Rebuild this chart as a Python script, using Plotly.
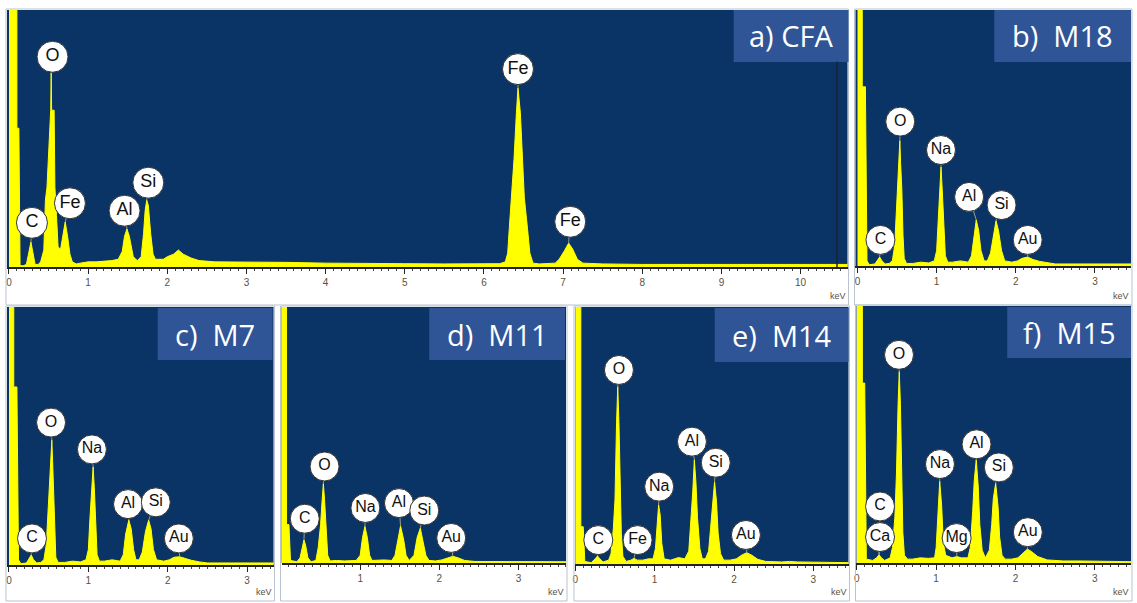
import plotly.graph_objects as go

W, H = 1137, 603

# ---------------- DATA (energy keV, intensity % of panel height) ----------------
a_keV = [0, 0.10, 0.10, 0.125, 0.14, 0.18, 0.22, 0.25, 0.277, 0.30, 0.33, 0.37,
         0.40, 0.44, 0.46, 0.48, 0.52, 0.527, 0.533, 0.539, 0.57, 0.58, 0.60, 0.62, 0.65,
         0.68, 0.71, 0.74, 0.77, 0.80, 0.85, 0.9, 1.0, 1.1, 1.2, 1.3, 1.38,
         1.43, 1.46, 1.49, 1.52, 1.57, 1.62, 1.67, 1.70, 1.72, 1.74, 1.76, 1.79, 1.82, 1.85,
         1.90, 1.95, 2.0, 2.08, 2.14, 2.2, 2.3, 2.4, 2.6, 3.0, 3.5, 4.0, 4.5, 5.0, 5.5, 6.0,
         6.2, 6.27, 6.30, 6.32, 6.35, 6.38, 6.41, 6.43, 6.46, 6.49, 6.51, 6.55, 6.58, 6.62,
         6.7, 6.9, 6.95, 7.02, 7.07, 7.12, 7.18, 7.25, 7.5, 8.0, 9.0, 10.0, 10.6]
a_cnt = [120, 120, 54, 54, 0.5, 0.5, 1, 5, 9.7, 6, 1, 1,
         2, 6.6, 26, 31, 61, 61, 75.5, 61, 61, 31, 20, 8, 6.6,
         12, 17.5, 12, 5, 2, 1.2, 1.5, 2, 2, 2.2, 2.5, 3,
         6, 12, 14.8, 12, 4, 2.5, 4, 13, 22, 26, 24, 13, 5, 3,
         3, 3, 4, 5, 6.6, 5, 3.5, 2.5, 2, 2, 1.8, 1.5, 1.3, 1.3, 1.2, 1.2,
         1.3, 2, 5.4, 15, 27, 42, 60, 69.6, 60, 42, 27, 15, 5.4, 1.5,
         1.2, 1.5, 3, 6.5, 9.3, 7, 3, 1.5, 1.2, 1, 1, 1, 1]

b_keV = [0, 0.06, 0.06, 0.10, 0.12, 0.15, 0.22, 0.25, 0.28, 0.31, 0.35, 0.40,
         0.44, 0.47, 0.49, 0.51, 0.525, 0.535, 0.545, 0.56, 0.575, 0.59, 0.62,
         0.7, 0.8, 0.9, 0.97, 1.0, 1.02, 1.04, 1.055, 1.07, 1.09, 1.11, 1.14,
         1.2, 1.3, 1.4, 1.44, 1.47, 1.50, 1.53, 1.56, 1.60, 1.64,
         1.68, 1.72, 1.75, 1.78, 1.82, 1.86, 1.95, 2.02, 2.08, 2.15, 2.22, 2.3, 2.4,
         2.5, 2.8, 3.5]
b_cnt = [120, 120, 70, 70, 2, 0.5, 0.8, 2, 3.5, 2, 0.8, 1,
         2, 8, 20, 35, 40, 49, 40, 30, 12, 3, 1,
         1, 1.5, 1.2, 2, 6, 18, 32, 38.7, 30, 15, 4, 1.5,
         1.5, 2, 1.5, 4, 12, 18, 14, 6, 2, 2,
         5, 13, 17.7, 14, 6, 2, 1.5, 2, 3, 3.5, 2.5, 1.8, 1.2,
         0.8, 0.8, 0.8]

c_keV = [0, 0.06, 0.06, 0.10, 0.12, 0.15, 0.22, 0.25, 0.28, 0.31, 0.35, 0.40,
         0.44, 0.47, 0.49, 0.51, 0.525, 0.54, 0.55, 0.56, 0.575, 0.59, 0.62,
         0.7, 0.8, 0.9, 0.97, 1.0, 1.02, 1.04, 1.06, 1.075, 1.09, 1.11, 1.14,
         1.2, 1.3, 1.4, 1.44, 1.47, 1.51, 1.54, 1.57, 1.60, 1.64,
         1.68, 1.72, 1.76, 1.79, 1.82, 1.86, 1.95, 2.02, 2.08, 2.15, 2.22, 2.3, 2.4,
         2.5, 2.8, 3.5]
c_cnt = [120, 120, 69, 69, 2, 0.5, 0.8, 2.5, 3.9, 2, 0.8, 1,
         2, 8, 20, 34, 40, 48.4, 40, 30, 12, 3, 1,
         1, 1.5, 1.2, 2, 6, 18, 31, 38, 30, 15, 4, 1.5,
         1.5, 2, 1.5, 4, 12, 17.4, 14, 6, 2, 2,
         5, 13, 17.4, 14, 6, 2, 1.5, 2, 3, 3.2, 2.5, 1.8, 1.2,
         0.8, 0.8, 0.8]

d_keV = [0, 0.07, 0.07, 0.10, 0.12, 0.2, 0.24, 0.27, 0.29, 0.31, 0.34, 0.38, 0.44,
         0.47, 0.50, 0.52, 0.535, 0.55, 0.57, 0.59, 0.62,
         0.7, 0.8, 0.95, 1.0, 1.03, 1.06, 1.09, 1.12, 1.15,
         1.3, 1.4, 1.44, 1.48, 1.51, 1.55, 1.58, 1.62,
         1.68, 1.72, 1.76, 1.79, 1.83, 1.87, 1.95, 2.03, 2.1, 2.17, 2.24, 2.32, 2.45, 3.6]
d_cnt = [120, 120, 15, 15, 1, 0.5, 2, 7, 9, 7, 2, 0.5, 1,
         6, 15, 24.7, 31, 24.7, 12, 3, 0.8,
         1, 0.8, 1, 3, 10, 14.3, 10, 3, 1,
         1.2, 1, 3, 10, 14.5, 9, 3, 1,
         3, 10, 13.6, 9, 3, 1, 0.8, 1.2, 2, 2.6, 2, 1, 0.6, 0.5]

e_keV = [0, 0.07, 0.07, 0.10, 0.12, 0.2, 0.25, 0.28, 0.31, 0.35, 0.42,
         0.45, 0.48, 0.50, 0.52, 0.535, 0.55, 0.565, 0.58, 0.60, 0.64,
         0.7, 0.74, 0.78, 0.85, 0.92, 0.98, 1.01, 1.03, 1.05, 1.07, 1.09, 1.12,
         1.2, 1.3, 1.38, 1.43, 1.46, 1.48, 1.50, 1.52, 1.54, 1.57, 1.60, 1.64,
         1.68, 1.71, 1.73, 1.755, 1.78, 1.80, 1.83, 1.87, 1.95,
         2.03, 2.1, 2.16, 2.22, 2.3, 2.4, 2.6, 2.7, 2.8, 3.5]
e_cnt = [120, 120, 14.5, 14.5, 1, 0.5, 2, 3.1, 2, 0.8, 1.5,
         4, 14, 25, 55, 69, 55, 28, 12, 3, 1,
         1.5, 2.2, 1.5, 1.5, 2, 2, 6, 15, 23, 19, 8, 2,
         1.5, 2.5, 2, 5, 18, 28, 40.5, 32, 18, 6, 2, 2,
         5, 16, 26, 32, 24, 12, 4, 1.5, 1.5,
         2, 3.5, 4.4, 3.5, 1.8, 1, 0.8, 1, 0.8, 0.5]

f_keV = [0, 0.07, 0.07, 0.10, 0.12, 0.2, 0.25, 0.28, 0.31, 0.35, 0.42,
         0.45, 0.48, 0.50, 0.52, 0.535, 0.55, 0.565, 0.58, 0.60, 0.64,
         0.7, 0.8, 0.9, 0.98, 1.0, 1.02, 1.045, 1.07, 1.09, 1.12,
         1.2, 1.26, 1.32, 1.40, 1.43, 1.46, 1.48, 1.505, 1.53, 1.55, 1.58, 1.62,
         1.67, 1.70, 1.72, 1.75, 1.78, 1.80, 1.83, 1.87, 1.95,
         2.03, 2.1, 2.15, 2.2, 2.28, 2.4, 2.6, 2.8, 3.5]
f_cnt = [120, 120, 70, 70, 1.5, 1, 2, 3.2, 2, 1, 2,
         6, 18, 35, 61.6, 74.5, 61.6, 30, 12, 3, 1.5,
         1.5, 2, 1.8, 2, 6, 18, 31.8, 22, 8, 3,
         2, 2.5, 2, 2, 6, 20, 32, 40.2, 30, 15, 5, 2,
         5, 15, 25, 31, 22, 10, 3, 1.5, 1.5,
         2, 4, 5.4, 4.5, 2.5, 1.2, 0.8, 0.8, 0.5]

# element labels: name, label energy, label height, peak energy, peak height
a_el = ["C", "O", "Fe", "Al", "Si", "Fe", "Fe"]
a_lx = [0.29, 0.55, 0.77, 1.46, 1.76, 6.43, 7.09]
a_ly = [17.2, 81.8, 24.8, 21.9, 32.8, 77.0, 17.6]
a_px = [0.277, 0.533, 0.71, 1.49, 1.74, 6.43, 7.07]
a_py = [9.7, 75.5, 17.5, 14.8, 26, 69.6, 9.3]

b_el = ["C", "O", "Na", "Al", "Si", "Au"]
b_lx = [0.29, 0.54, 1.055, 1.41, 1.82, 2.15]
b_ly = [10.2, 56.4, 45.3, 27.0, 23.8, 10.2]
b_px = [0.28, 0.535, 1.055, 1.50, 1.75, 2.15]
b_py = [3.5, 49, 38.7, 18, 17.7, 3.5]

c_el = ["C", "O", "Na", "Al", "Si", "Au"]
c_lx = [0.29, 0.53, 1.045, 1.50, 1.85, 2.14]
c_ly = [10.3, 55.2, 44.8, 23.6, 24.3, 10.3]
c_px = [0.28, 0.54, 1.06, 1.51, 1.76, 2.15]
c_py = [3.9, 48.4, 38, 17.4, 17.4, 3.2]

d_el = ["C", "O", "Na", "Al", "Si", "Au"]
d_lx = [0.30, 0.55, 1.066, 1.49, 1.81, 2.15]
d_ly = [17.3, 37.7, 21.5, 23.4, 20.5, 9.8]
d_px = [0.29, 0.535, 1.06, 1.51, 1.76, 2.17]
d_py = [9, 31, 14.3, 14.5, 13.6, 2.6]

e_el = ["C", "Fe", "O", "Na", "Al", "Si", "Au"]
e_lx = [0.29, 0.785, 0.55, 1.057, 1.47, 1.77, 2.15]
e_ly = [9.3, 9.3, 75.5, 30.1, 47.6, 39.4, 11.3]
e_px = [0.28, 0.74, 0.535, 1.05, 1.50, 1.755, 2.16]
e_py = [3.1, 2.2, 69, 23, 40.5, 32, 4.4]

f_el = ["C", "Ca", "O", "Na", "Mg", "Al", "Si", "Au"]
f_lx = [0.293, 0.293, 0.532, 1.048, 1.258, 1.509, 1.79, 2.155]
f_ly = [22.0, 10.1, 81.0, 38.5, 9.7, 46.2, 37.2, 12.0]
f_px = [0.28, 0.28, 0.535, 1.045, 1.26, 1.505, 1.75, 2.15]
f_py = [3.2, 3.2, 74.5, 31.8, 2.5, 40.2, 31, 5.4]

titles = ["a) CFA", "b)  M18", "c)  M7", "d)  M11", "e)  M14", "f)  M15"]
tick_sets = [list(range(0, 11)), [0, 1, 2, 3], [0, 1, 2, 3], [0, 1, 2, 3], [0, 1, 2, 3], [0, 1, 2, 3]]

# ---------------- LAYOUT GEOMETRY (pixels) ----------------
# left, right, top, axis-bottom, strip-bottom, px at 0 keV, px per keV
geom = [
    (5, 847, 10, 267, 305, 7, 79.3),
    (855, 1131, 10, 266, 305, 857, 79.3),
    (5, 272, 307, 565, 601, 7, 79.5),
    (280, 565, 307, 563, 601, 279.5, 79.3),
    (574, 848, 307, 564, 601, 574.3, 79.5),
    (856, 1131, 306, 563, 601, 856.3, 79.5),
]
boxes = [(733, 848, 10, 62), (994, 1131, 10, 62), (156, 271, 308, 360),
         (428, 564, 308, 360), (714, 848, 308, 362), (1007, 1131, 307, 358)]

BG = "#0b3466"
BOX = "#2f5597"
YEL = "#ffff00"

spectra = [(a_keV, a_cnt), (b_keV, b_cnt), (c_keV, c_cnt), (d_keV, d_cnt), (e_keV, e_cnt), (f_keV, f_cnt)]
labels = [(a_el, a_lx, a_ly, a_px, a_py), (b_el, b_lx, b_ly, b_px, b_py), (c_el, c_lx, c_ly, c_px, c_py),
          (d_el, d_lx, d_ly, d_px, d_py), (e_el, e_lx, e_ly, e_px, e_py), (f_el, f_lx, f_ly, f_px, f_py)]

def px(x):
    return x / W

def py(y):
    return 1 - y / H

fig = go.Figure()
shapes = []
annotations = []

for i in range(6):
    n = "" if i == 0 else str(i + 1)
    xa, ya = "x" + n, "y" + n
    L, R, T, B, SB, x0, s = geom[i]
    keV, cnt = spectra[i]
    # frame around panel incl. white strip
    shapes.append(dict(type="rect", xref="paper", yref="paper", x0=px(L - 1), x1=px(R + 1),
                       y0=py(SB), y1=py(T - 1), line=dict(color="#b9c3cf", width=1),
                       fillcolor="rgba(0,0,0,0)", layer="above"))
    fig.add_trace(go.Scatter(x=keV, y=cnt, xaxis=xa, yaxis=ya, mode="lines",
                             line=dict(color=YEL, width=1), fill="tozeroy", fillcolor=YEL,
                             hoverinfo="skip", showlegend=False))
    el, lx, ly, pkx, pky = labels[i]
    sx, sy = [], []
    for j in range(len(el)):
        sx += [pkx[j], lx[j], None]
        sy += [pky[j], ly[j], None]
    fig.add_trace(go.Scatter(x=sx, y=sy, xaxis=xa, yaxis=ya, mode="lines",
                             line=dict(color="#9aa08a", width=1), hoverinfo="skip", showlegend=False))
    msize = 31 if i == 0 else 29
    fig.add_trace(go.Scatter(x=lx, y=ly, xaxis=xa, yaxis=ya, mode="markers+text", text=el,
                             textposition="middle center", cliponaxis=False,
                             textfont=dict(family="Liberation Sans, Arial", size=18 if i == 0 else 16, color="#111"),
                             marker=dict(size=msize, color="white", line=dict(color="#333", width=1)),
                             hoverinfo="skip", showlegend=False))
    xr = [(L - x0) / s, (R - x0) / s]
    fig.layout["xaxis" + n] = dict(domain=[px(L), px(R)], range=xr, anchor=ya, showgrid=False, zeroline=False,
                                   showline=True, linecolor="#222", linewidth=1.5, ticks="outside", ticklen=5,
                                   tickcolor="#222", tickvals=tick_sets[i],
                                   tickfont=dict(family="Liberation Sans, Arial", size=10, color="#5a5040"),
                                   minor=dict(dtick=0.1, ticks="outside", ticklen=2, tickcolor="#444", showgrid=False),
                                   fixedrange=True)
    fig.layout["yaxis" + n] = dict(domain=[py(B), py(T)], range=[0, 100], anchor=xa, visible=False,
                                   showgrid=False, zeroline=False, fixedrange=True)
    # title box
    bx0, bx1, by0, by1 = boxes[i]
    shapes.append(dict(type="rect", xref="paper", yref="paper", x0=px(bx0), x1=px(bx1), y0=py(by1), y1=py(by0),
                       line=dict(width=0), fillcolor=BOX, layer="above"))
    annotations.append(dict(text=titles[i], xref="paper", yref="paper", x=px((bx0 + bx1) / 2), y=py((by0 + by1) / 2),
                            showarrow=False, xanchor="center", yanchor="middle",
                            font=dict(family="Open Sans, Noto Sans", size=29, color="white")))
    # keV unit label
    annotations.append(dict(text="keV", xref="paper", yref="paper", x=px(R), y=py(SB - 2),
                            showarrow=False, xanchor="right", yanchor="bottom",
                            font=dict(family="Liberation Sans, Arial", size=9, color="#5a5040")))

# thin dark line near right edge of panel a
shapes.append(dict(type="line", xref="x", yref="y", x0=10.46, x1=10.46, y0=0, y1=80,
                   line=dict(color="#1c2430", width=1.5)))

fig.update_layout(width=W, height=H, margin=dict(l=0, r=0, t=0, b=0), paper_bgcolor="white",
                  plot_bgcolor=BG, shapes=shapes, annotations=annotations, showlegend=False)

fig.write_html("out.html", config={"displayModeBar": False},
               post_script="document.body.style.margin='0';document.body.style.overflow='hidden';")
